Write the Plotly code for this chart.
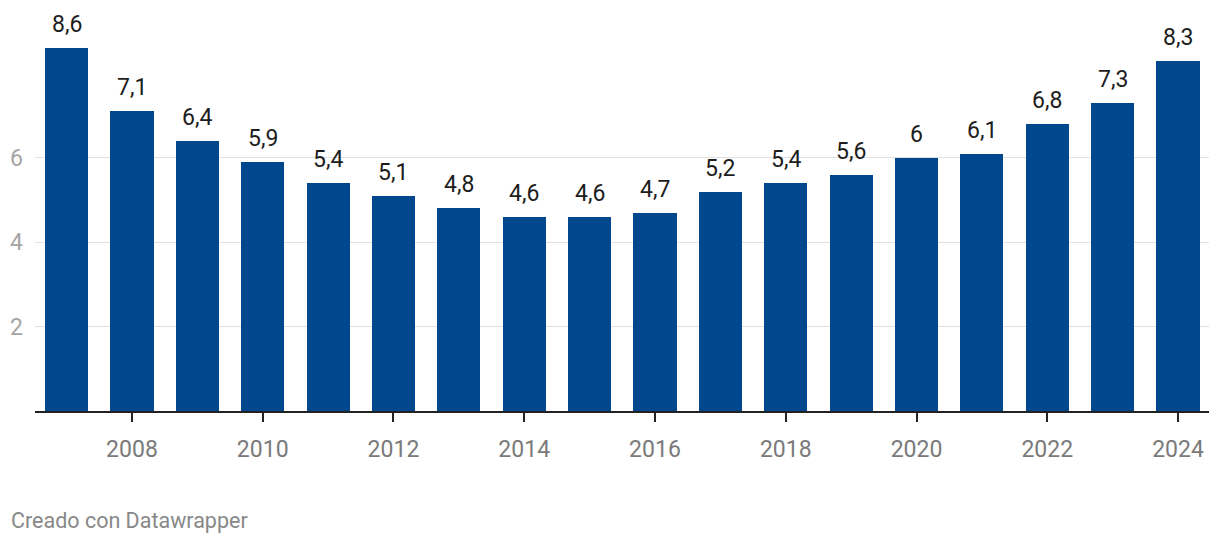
import plotly.graph_objects as go

years = list(range(2007, 2025))
values = [8.6, 7.1, 6.4, 5.9, 5.4, 5.1, 4.8, 4.6, 4.6, 4.7, 5.2, 5.4, 5.6, 6.0, 6.1, 6.8, 7.3, 8.3]
labels = ["8,6", "7,1", "6,4", "5,9", "5,4", "5,1", "4,8", "4,6", "4,6", "4,7",
          "5,2", "5,4", "5,6", "6", "6,1", "6,8", "7,3", "8,3"]
x_ticks = list(range(2008, 2025, 2))
y_ticks = [2, 4, 6]

BAR = "#00478e"
FONT = "Roboto"

fig = go.Figure()
fig.add_trace(go.Bar(x=years, y=values, marker=dict(color=BAR, line=dict(width=0)),
                     width=0.66, hoverinfo="skip"))

for x, v, t in zip(years, values, labels):
    fig.add_annotation(x=x, y=v, text=t, showarrow=False, yanchor="bottom",
                       yshift=8, font=dict(family=FONT, size=23, color="#1d1d1d"))

fig.add_annotation(xref="paper", yref="paper", x=-0.022, y=-0.303, xanchor="left",
                   yanchor="middle", text="Creado con Datawrapper", showarrow=False,
                   font=dict(family=FONT, size=21.5, color="#888888"))

fig.update_layout(
    width=1220, height=544,
    margin=dict(l=35, r=11, t=48, b=132.5),
    paper_bgcolor="white", plot_bgcolor="white",
    showlegend=False,
    bargap=0,
    xaxis=dict(range=[2006.517, 2024.474], tickvals=x_ticks, ticktext=[str(v) for v in x_ticks],
               ticks="outside", ticklen=9, tickwidth=2, tickcolor="#222222",
               showline=True, linewidth=2, linecolor="#222222", showgrid=False,
               zeroline=False, fixedrange=True,
               tickfont=dict(family=FONT, size=23, color="#7a7a7a"), ticklabelstandoff=7),
    yaxis=dict(range=[0, 8.6], tickvals=y_ticks, ticktext=[str(v) for v in y_ticks],
               showgrid=True, gridcolor="#e0e0e0", gridwidth=1, zeroline=False,
               showline=False, ticks="", fixedrange=True, ticklabelstandoff=11,
               tickfont=dict(family=FONT, size=23, color="#a5a5a5")),
)

fig.write_html("out.html", config={"displayModeBar": False},
               post_script="document.body.style.margin='0';document.body.style.overflow='hidden';")
